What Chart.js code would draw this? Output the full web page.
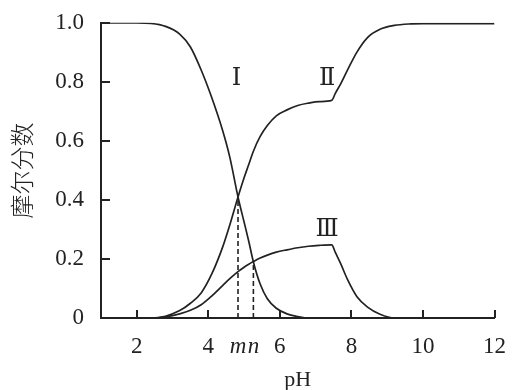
<!DOCTYPE html>
<html>
<head>
<meta charset="utf-8">
<script src="https://cdn.jsdelivr.net/npm/chart.js@4/dist/chart.umd.min.js"></script>
<style>
  html, body { margin: 0; padding: 0; background: #fff; }
  #wrap { width: 513px; height: 390px; }
</style>
</head>
<body>
<div id="wrap"><canvas id="myChart" width="513" height="390"></canvas></div>
<script>
// valeurs
const pH      = [1, 2, 2.4, 2.8, 3.2, 3.5, 3.8, 4.1, 4.4, 4.6, 4.83, 5.0, 5.13, 5.26, 5.45, 5.65, 5.9, 6.2, 6.5, 6.8, 7.1, 7.45, 7.55, 7.7, 7.9, 8.15, 8.45, 8.8, 9.2, 9.6, 10, 11, 12];
const fracI   = [1, 1, 0.998, 0.988, 0.962, 0.918, 0.84, 0.745, 0.635, 0.545, 0.41, 0.325, 0.26, 0.19, 0.115, 0.065, 0.033, 0.014, 0.005, 0, 0, 0, 0, 0, 0, 0, 0, 0, 0, 0, 0, 0, 0];
const fracII  = [0, 0, 0, 0.006, 0.025, 0.05, 0.085, 0.15, 0.24, 0.315, 0.41, 0.475, 0.52, 0.565, 0.615, 0.652, 0.685, 0.705, 0.72, 0.728, 0.733, 0.737, 0.761, 0.793, 0.842, 0.90, 0.95, 0.978, 0.991, 0.996, 0.997, 0.997, 0.997];
const fracIII = [0, 0, 0, 0.004, 0.014, 0.026, 0.045, 0.075, 0.11, 0.133, 0.157, 0.172, 0.182, 0.191, 0.203, 0.213, 0.223, 0.231, 0.238, 0.243, 0.246, 0.248, 0.222, 0.184, 0.128, 0.073, 0.037, 0.013, 0, 0, 0, 0, 0];

const xTicks = [2, 4, 6, 8, 10, 12];
const yTicks = [0, 0.2, 0.4, 0.6, 0.8, 1.0];
const markNames = ['m', 'n'];
const markPH = [4.83, 5.26];
const markFrac = [0.41, 0.19];
const curveNames = ['Ⅰ', 'Ⅱ', 'Ⅲ'];

const ink = '#222';
const serif = '"Liberation Serif", "Times New Roman", serif';

const toPoints = (ys) => pH.map((x, i) => ({ x: x, y: ys[i] }));

const curveStyle = {
    borderColor: ink,
    borderWidth: 1.7,
    pointRadius: 0,
    fill: false,
    cubicInterpolationMode: 'monotone'
};

const datasets = [
    { ...curveStyle, data: toPoints(fracI) },
    { ...curveStyle, data: toPoints(fracII) },
    { ...curveStyle, data: toPoints(fracIII) }
];
// traits pointillés m et n
markPH.forEach((m, i) => {
    datasets.push({
        data: [{ x: m, y: 0 }, { x: m, y: markFrac[i] }],
        borderColor: ink,
        borderWidth: 1.6,
        borderDash: [5, 3],
        pointRadius: 0,
        fill: false
    });
});

// graduations vers l'intérieur + noms des courbes
const innerTicks = {
    id: 'innerTicks',
    afterDatasetsDraw(chart) {
        const { ctx, scales: { x, y } } = chart;
        ctx.save();
        ctx.strokeStyle = ink;
        ctx.lineWidth = 2;
        ctx.beginPath();
        xTicks.forEach(v => {
            const px = Math.round(x.getPixelForValue(v));
            ctx.moveTo(px, y.bottom);
            ctx.lineTo(px, y.bottom - 8);
        });
        yTicks.slice(1).forEach(v => {
            const py = Math.round(y.getPixelForValue(v));
            ctx.moveTo(x.left, py);
            ctx.lineTo(x.left + 9, py);
        });
        ctx.stroke();

        // étiquettes Ⅰ Ⅱ Ⅲ
        const labelPos = [[4.79, 0.81], [7.32, 0.81], [7.32, 0.30]];
        ctx.fillStyle = ink;
        ctx.font = '24px "DejaVu Serif", ' + serif;
        ctx.textAlign = 'center';
        ctx.textBaseline = 'middle';
        curveNames.forEach((t, i) => {
            ctx.fillText(t, x.getPixelForValue(labelPos[i][0]), y.getPixelForValue(labelPos[i][1]));
        });
        ctx.restore();
    }
};

const allXTicks = xTicks.concat(markPH).sort((a, b) => a - b);

const ctx = document.getElementById('myChart').getContext('2d');
const myChart = new Chart(ctx, {
    type: 'line',
    data: { datasets: datasets },
    plugins: [innerTicks],
    options: {
        responsive: false,
        animation: false,
        layout: { padding: { top: 20, right: 15, left: 0, bottom: 0 } },
        plugins: { legend: { display: false }, tooltip: { enabled: false } },
        scales: {
            x: {
                type: 'linear',
                min: 1,
                max: 12,
                afterBuildTicks: (scale) => { scale.ticks = allXTicks.map(v => ({ value: v })); },
                afterFit: (scale) => { scale.height = 72; },
                grid: { display: false },
                border: { display: true, width: 2, color: ink },
                ticks: {
                    autoSkip: false,
                    maxRotation: 0,
                    padding: 7,
                    color: ink,
                    font: (c) => ({
                        family: serif,
                        size: 23,
                        style: (c.tick && markPH.includes(c.tick.value)) ? 'italic' : 'normal'
                    }),
                    callback: (v) => {
                        const k = markPH.indexOf(v);
                        return k >= 0 ? markNames[k] : String(v);
                    }
                },
                title: {
                    display: true,
                    text: 'pH',
                    color: ink,
                    font: { family: serif, size: 22, lineHeight: 0.9 },
                    padding: 0
                }
            },
            y: {
                min: 0,
                max: 1,
                afterBuildTicks: (scale) => { scale.ticks = yTicks.map(v => ({ value: v })); },
                afterFit: (scale) => { scale.width = 101; },
                grid: { display: false },
                border: { display: true, width: 2, color: ink },
                ticks: {
                    padding: 9,
                    color: ink,
                    font: { family: serif, size: 23 },
                    callback: (v) => v === 0 ? '0' : v.toFixed(1)
                },
                title: {
                    display: true,
                    text: '摩尔分数',
                    color: ink,
                    font: { family: '"Noto Sans CJK SC", sans-serif', size: 24, lineHeight: 1.2, weight: 300 },
                    padding: { top: 7, bottom: 0 }
                }
            }
        }
    }
});
</script>
</body>
</html>
